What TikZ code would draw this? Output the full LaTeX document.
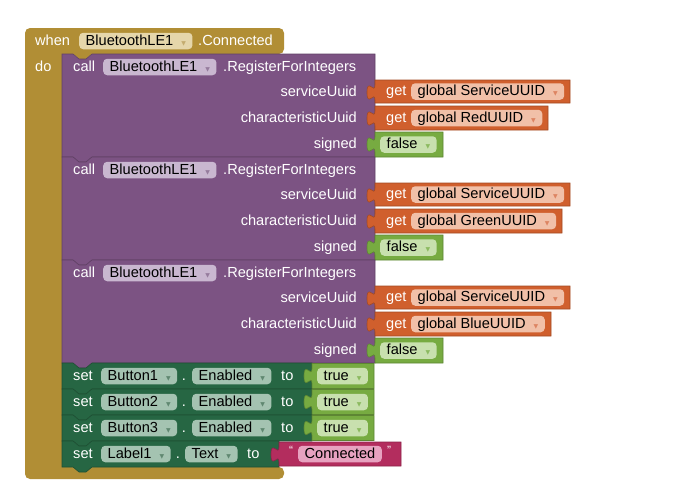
\documentclass[tikz,border=0pt]{standalone}
\usepackage{fontspec}
\setmainfont{Liberation Sans}
\newfontfamily\arrowfont{DejaVu Sans}

\definecolor{evgold}{RGB}{177,142,53}
\definecolor{evfld}{RGB}{229,214,170}
\definecolor{evarr}{RGB}{196,172,110}
\definecolor{callpurp}{RGB}{124,83,131}
\definecolor{callfld}{RGB}{201,183,208}
\definecolor{callarr}{RGB}{150,124,157}
\definecolor{getorange}{RGB}{208,95,45}
\definecolor{getfld}{RGB}{241,192,168}
\definecolor{getarr}{RGB}{221,132,98}
\definecolor{logicgreen}{RGB}{119,171,65}
\definecolor{logicfld}{RGB}{200,224,174}
\definecolor{logicarr}{RGB}{140,186,96}
\definecolor{setgreen}{RGB}{38,102,67}
\definecolor{setfld}{RGB}{164,195,177}
\definecolor{setarr}{RGB}{96,136,113}
\definecolor{textmag}{RGB}{179,45,94}
\definecolor{textfld}{RGB}{231,162,192}

\tikzset{
  blk/.style={fill=#1, draw=#1!78!black, line width=0.6pt},
  lbl/.style={text=white, inner sep=0pt, text height=11pt, text depth=2.5pt},
  fld/.style={fill=#1, rounded corners=4pt, text=black, inner xsep=6.5pt, inner ysep=1.5pt,
    text height=11pt, text depth=2.5pt},
  quot/.style={text=white, inner sep=0pt, font=\fontsize{12}{12}\selectfont},
}
% dropdown arrow of a field
\newcommand{\dd}[1]{\hspace{8pt}\textcolor{#1}{\arrowfont\fontsize{6}{6}\selectfont ▼}}
% statement block: colour, left, top, right, bottom
\newcommand{\stmtblock}[5]{%
  \draw[blk=#1] (#2,#3) -- (#2+11,#3) -- (#2+17,#3+5) -- (#2+24,#3+5) -- (#2+30,#3) -- (#4,#3)
    -- (#4,#5) -- (#2+30,#5) -- (#2+24,#5+5) -- (#2+17,#5+5) -- (#2+11,#5) -- (#2,#5) -- cycle;}
% value block with its tab on the left
\newcommand{\valblock}[5]{%
  \draw[blk=#1] (#2,#3) -- (#4,#3) -- (#4,#5) -- (#2,#5) -- (#2,#3+20)
    .. controls (#2,#3+10) and (#2-8,#3+28) .. (#2-8,#3+12.5)
    .. controls (#2-8,#3-3) and (#2,#3+15) .. (#2,#3+5) -- cycle;}

\begin{document}
\begin{tikzpicture}[x=1pt, y=-1pt, font=\fontsize{14.6}{17}\selectfont]
\useasboundingbox (0,0) rectangle (677,490);
% event block
\fill[evgold, rounded corners=5pt] (25,28) -- (284,28) -- (284,54) -- (62,54) -- (62,467)
  -- (284,467) -- (284,479) -- (25,479) -- cycle;
\fill[evgold] (73,54) -- (79,59) -- (86,59) -- (92,54) -- cycle;
\node[lbl, anchor=west] (when) at (35,41) {when};
\node[fld=evfld, anchor=west] (evcomp) at (79,41) {BluetoothLE1\dd{evarr}};
\node[lbl, anchor=west] (connected) at (198,41) {.Connected};
\node[lbl, anchor=west] (do) at (35,67) {do};

% three RegisterForIntegers calls
\foreach \t/\u/\r [count=\i] in {54/RedUUID/548, 157/GreenUUID/562, 260/BlueUUID/551}{
  \stmtblock{callpurp}{62}{\t}{375}{\t+103}
  \node[lbl, anchor=west] (call\i) at (73,\t+13) {call};
  \node[fld=callfld, anchor=west] (comp\i) at (103,\t+13) {BluetoothLE1\dd{callarr}};
  \node[lbl, anchor=west] (method\i) at (223,\t+13) {.RegisterForIntegers};
  \node[lbl, anchor=east] (svclbl\i) at (357,\t+38) {serviceUuid};
  \node[lbl, anchor=east] (charlbl\i) at (357,\t+64) {characteristicUuid};
  \node[lbl, anchor=east] (signlbl\i) at (357,\t+90) {signed};
  % get global ServiceUUID
  \valblock{getorange}{375}{\t+26}{570}{\t+49}
  \node[lbl, anchor=west] (getsvc\i) at (386,\t+37.5) {get};
  \node[fld=getfld, anchor=west] (svc\i) at (411,\t+37.5) {global ServiceUUID\dd{getarr}};
  % get global colour UUID
  \valblock{getorange}{375}{\t+52}{\r}{\t+76}
  \node[lbl, anchor=west] (getchar\i) at (386,\t+64) {get};
  \node[fld=getfld, anchor=west] (char\i) at (411,\t+64) {global \u\dd{getarr}};
  % false
  \valblock{logicgreen}{375}{\t+78}{443}{\t+103}
  \node[fld=logicfld, anchor=west] (false\i) at (380,\t+90.5) {false\dd{logicarr}};
}

% set ButtonN.Enabled to true
\foreach \t/\b [count=\i] in {363/Button1, 389/Button2, 415/Button3}{
  \stmtblock{setgreen}{62}{\t}{312}{\t+26}
  \node[lbl, anchor=west] (set\i) at (73,\t+13) {set};
  \node[fld=setfld, anchor=west] (btn\i) at (101,\t+13) {\b\dd{setarr}};
  \node[lbl] (dot\i) at (184,\t+13) {.};
  \node[fld=setfld, anchor=west] (prop\i) at (192,\t+13) {Enabled\dd{setarr}};
  \node[lbl, anchor=west] (to\i) at (281,\t+13) {to};
  \valblock{logicgreen}{312}{\t+0.5}{374}{\t+25.5}
  \node[fld=logicfld, anchor=west] (true\i) at (317,\t+13) {true\dd{logicarr}};
}

% set Label1.Text to "Connected"
\stmtblock{setgreen}{62}{441}{279}{467}
\node[lbl, anchor=west] (set4) at (73,454) {set};
\node[fld=setfld, anchor=west] (lab) at (101,454) {Label1\dd{setarr}};
\node[lbl] (dot4) at (178,454) {.};
\node[fld=setfld, anchor=west] (prop4) at (185,454) {Text\dd{setarr}};
\node[lbl, anchor=west] (to4) at (247,454) {to};
\valblock{textmag}{279}{442}{401}{466}
\node[quot] (oq) at (291,450) {“};
\node[fld=textfld, anchor=west] (str) at (298,454) {Connected};
\node[quot] (cq) at (389,450) {”};
\end{tikzpicture}
\end{document}
